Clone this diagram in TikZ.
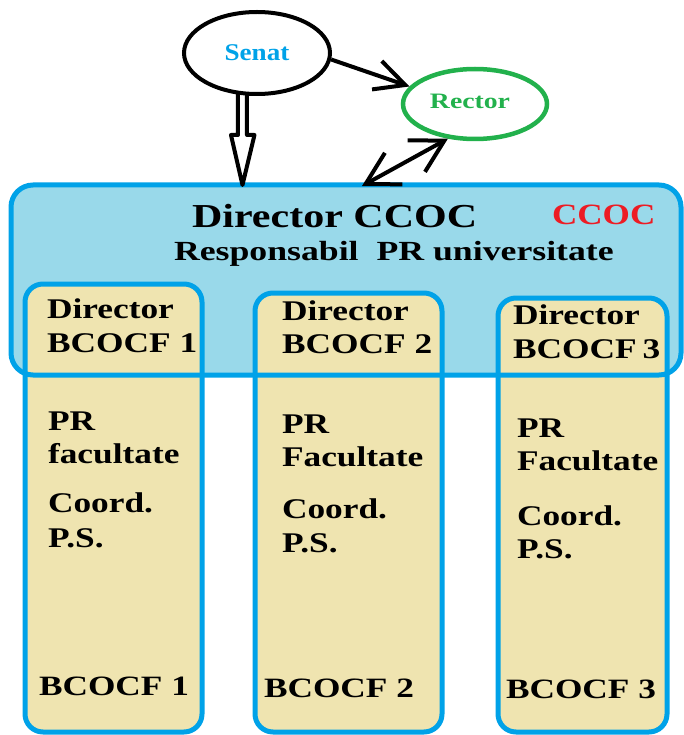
\documentclass[tikz,border=0pt]{standalone}
\usepackage{fontspec}
\setmainfont{Liberation Serif}
\usepackage{graphicx}
\usetikzlibrary{arrows.meta,shapes.geometric,calc}
\definecolor{bbfill}{HTML}{99D9EA}
\definecolor{bblue}{HTML}{00A2E8}
\definecolor{colfill}{HTML}{EFE4B0}
\definecolor{rgreen}{HTML}{22B14C}
\definecolor{ccred}{HTML}{ED1C24}
\newcommand{\stxt}[3]{\fontsize{#1pt}{#1pt}\selectfont\bfseries\scalebox{#2}[1]{#3}}
\newcommand{\ctxt}[1]{\stxt{28.5}{1.24}{#1}}
\newcommand{\btxt}[1]{\stxt{28}{1.26}{#1}}
\begin{document}
\begin{tikzpicture}[x=1pt,y=-1pt,
  lbl/.style={inner sep=0pt, outer sep=0pt, anchor=base west},
  colbox/.style={draw=bblue, fill=colfill, line width=5pt, rounded corners=18pt, anchor=north west, inner sep=0pt, outer sep=0pt},
  bigfill/.style={fill=bbfill, rounded corners=22pt, anchor=north west, inner sep=0pt, outer sep=0pt},
  bigborder/.style={draw=bblue, line width=5pt, rounded corners=22pt},
  barbarrow/.style={line width=4pt},
  coltxt/.style={lbl}
]
\useasboundingbox (0,0) rectangle (683,735);

% big CCOC box (fill)
\node[bigfill, minimum width=670pt, minimum height=190pt] (bigbox) at (11,185) {};

% columns
\node[colbox, minimum width=177pt, minimum height=448pt] (col1) at (25,284) {};
\node[colbox, minimum width=187pt, minimum height=439pt] (col2) at (255,293) {};
\node[colbox, minimum width=169pt, minimum height=434pt] (col3) at (498,298) {};

% big box border on top
\draw[bigborder] (bigbox.north west) rectangle (bigbox.south east);

% ellipses
\node[draw, ellipse, line width=4pt, minimum width=146pt, minimum height=82pt, inner sep=0pt, text=bblue] (senat) at (257,53) {\stxt{24}{1.13}{Senat}};
\node[draw=rgreen, ellipse, line width=4.5pt, minimum width=144pt, minimum height=70pt, inner sep=0pt] (rector) at (475,104) {};
\node[inner sep=0pt, text=rgreen] (rectorlbl) at (470,101) {\stxt{22}{1.26}{Rector}};

% arrows
\draw[barbarrow, -{Straight Barb[length=30pt,width=30pt]}] (senat.-5) -- (rector.165);
\coordinate (ccocin) at (362,186);
\draw[barbarrow, {Straight Barb[length=32pt,width=36pt]}-{Straight Barb[length=32pt,width=36pt]}] (rector.232) -- (ccocin);

\path (senat.251) coordinate (d0);
\coordinate (dtip) at (d0 |- bigbox.north);
\draw[line width=4pt, line join=round] ($(d0)+(-4.5,-3)$) -- ($(dtip)+(-4.5,-50)$) -- ($(dtip)+(-11.5,-50)$) -- (dtip) -- ($(dtip)+(12,-50)$) -- ($(dtip)+(4.5,-50)$) -- ($(d0)+(4.5,-3)$);

% big box texts
\node[lbl] (dirccoc) at (192,227) {\stxt{33.5}{1.255}{Director CCOC}};
\node[lbl, text=ccred] (ccoc) at (552,225) {\stxt{29.5}{1.19}{CCOC}};
\node[lbl] (resp) at (174,260) {\stxt{27.7}{1.29}{Responsabil\ \ PR universitate}};

% column 1
\node[coltxt] (c1a) at (47,318) {\ctxt{Director}};
\node[coltxt] (c1b) at (47,352) {\ctxt{BCOCF 1}};
\node[coltxt] (c1c) at (48,430) {\ctxt{PR}};
\node[coltxt] (c1d) at (48,463) {\ctxt{facultate}};
\node[coltxt] (c1e) at (48,512) {\ctxt{Coord.}};
\node[coltxt] (c1f) at (48,547) {\ctxt{P.S.}};
\node[coltxt] (c1g) at (39,695) {\btxt{BCOCF 1}};

% column 2
\node[coltxt] (c2a) at (282,320) {\ctxt{Director}};
\node[coltxt] (c2b) at (282,353) {\ctxt{BCOCF 2}};
\node[coltxt] (c2c) at (282,433) {\ctxt{PR}};
\node[coltxt] (c2d) at (282,466) {\ctxt{Facultate}};
\node[coltxt] (c2e) at (282,518) {\ctxt{Coord.}};
\node[coltxt] (c2f) at (282,552) {\ctxt{P.S.}};
\node[coltxt] (c2g) at (264,697) {\btxt{BCOCF 2}};

% column 3
\node[coltxt] (c3a) at (513,324) {\ctxt{Director}};
\node[coltxt] (c3b) at (513,358) {\ctxt{BCOCF\,3}};
\node[coltxt] (c3c) at (517,437) {\ctxt{PR}};
\node[coltxt] (c3d) at (517,470) {\ctxt{Facultate}};
\node[coltxt] (c3e) at (517,525) {\ctxt{Coord.}};
\node[coltxt] (c3f) at (517,558) {\ctxt{P.S.}};
\node[coltxt] (c3g) at (506,698) {\btxt{BCOCF 3}};
\end{tikzpicture}
\end{document}
